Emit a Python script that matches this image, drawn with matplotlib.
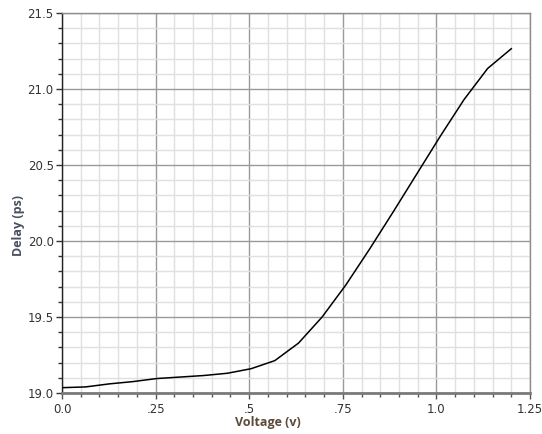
import numpy as np
import matplotlib.pyplot as plt
from matplotlib.ticker import MultipleLocator, FixedLocator, FixedFormatter

# delay vs supply voltage, 20 sweep points from 0 to 1.2 V
voltage = np.linspace(0.0, 1.2, 20)
delay = [19.035, 19.04, 19.06, 19.075, 19.095, 19.105, 19.115, 19.13, 19.16, 19.213,
         19.328, 19.50, 19.71, 19.945, 20.19, 20.44, 20.69, 20.93, 21.135, 21.265]

xticks = [0.0, 0.25, 0.5, 0.75, 1.0, 1.25]
xlabels = ['0.0', '.25', '.5', '.75', '1.0', '1.25']
yticks = [19.0, 19.5, 20.0, 20.5, 21.0, 21.5]
ylabels = ['19.0', '19.5', '20.0', '20.5', '21.0', '21.5']

fig = plt.figure(figsize=(5.42, 4.34), dpi=100)
ax = fig.add_axes([62/542, 1 - 393/434, 468/542, 380/434])

ax.plot(voltage, delay, color='black', lw=1.1, zorder=3)

ax.set_xlim(0, 1.25)
ax.set_ylim(19.0, 21.5)
ax.xaxis.set_major_locator(FixedLocator(xticks))
ax.xaxis.set_major_formatter(FixedFormatter(xlabels))
ax.yaxis.set_major_locator(FixedLocator(yticks))
ax.yaxis.set_major_formatter(FixedFormatter(ylabels))
ax.xaxis.set_minor_locator(MultipleLocator(0.05))
ax.yaxis.set_minor_locator(MultipleLocator(0.1))

# grid: light minor cells, darker major lines
ax.grid(which='minor', color='#e0e0e0', lw=1.0, zorder=0)
ax.grid(which='major', color='#9a9a9a', lw=1.0, zorder=1)
ax.set_axisbelow(True)

for side in ['top', 'right']:
    ax.spines[side].set_color('#8c8c8c')
    ax.spines[side].set_linewidth(1.0)
ax.spines['left'].set_color('#222222')
ax.spines['left'].set_linewidth(1.0)
ax.spines['bottom'].set_color('#7a7a7a')
ax.spines['bottom'].set_linewidth(2.0)

ax.tick_params(which='both', direction='out', colors='#333333', labelsize=8.5)
ax.tick_params(which='major', length=4, width=1)
ax.tick_params(which='minor', length=3, width=1)
ax.tick_params(axis='x', which='both', color='#555555')
ax.tick_params(axis='x', pad=3)
ax.tick_params(axis='y', pad=2)

ax.set_xlabel('Voltage (v)', fontsize=9, fontweight='bold', family='Open Sans', color='#5c4a3a')
ax.set_ylabel('Delay (ps)', fontsize=9, fontweight='bold', family='Open Sans', color='#4a5060')
ax.xaxis.set_label_coords(0.44, -0.06)
ax.yaxis.set_label_coords(-0.08, 0.442)

fig.savefig('out.png', dpi=100)
